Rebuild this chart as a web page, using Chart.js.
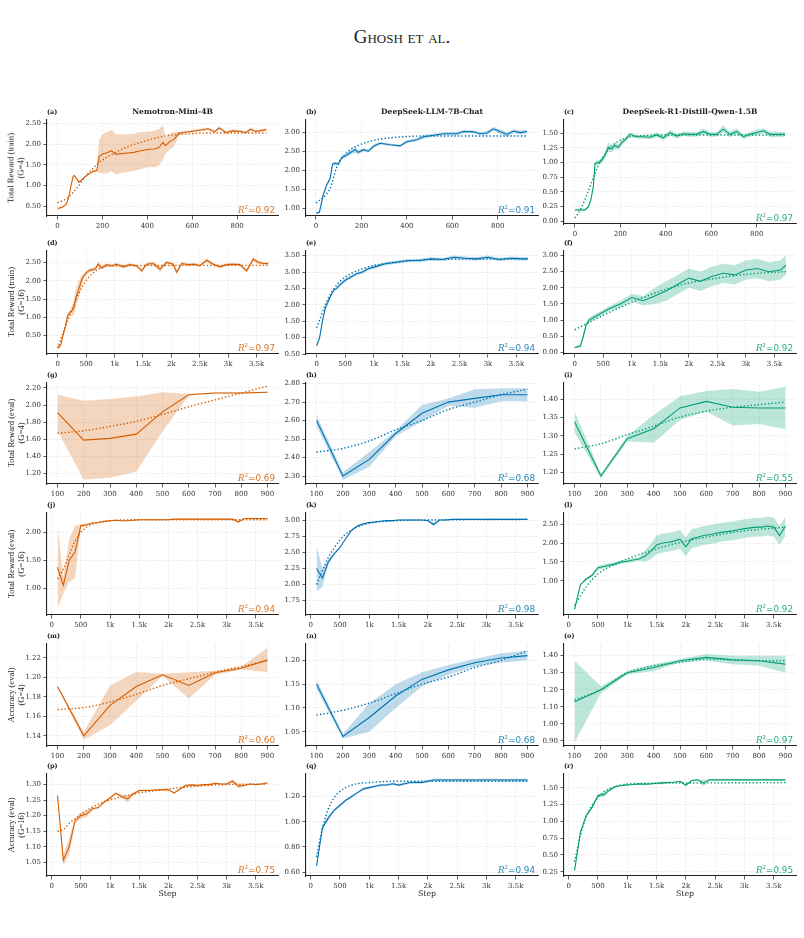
<!DOCTYPE html>
<html>
<head>
<meta charset="utf-8">
<script src="https://cdn.jsdelivr.net/npm/chart.js@4.4.1/dist/chart.umd.min.js"></script>
<style>
  body { margin: 0; background: #fff; width: 804px; height: 938px; position: relative; overflow: hidden; }
  canvas { position: absolute; }
  .t { position: absolute; white-space: nowrap; color: #222; }
  .head { left: 0; width: 804px; top: 26px; text-align: center; font: 19px "Liberation Serif", serif; font-variant: small-caps; }
  .ttl { font: bold 7.6px "DejaVu Serif", serif; transform: translateX(-50%); }
  .lbl { font: bold 6.5px "DejaVu Serif", serif; }
  .ylab { font: 8.6px/9.5px "Liberation Serif", serif; text-align: center; transform: translate(-50%, -50%) rotate(-90deg); }
  .r2 { font: 8.8px "DejaVu Sans", sans-serif; transform: translateX(-100%); }
  .r2 i { font-family: "DejaVu Serif", serif; }
  .r2 sup { font-size: 5.5px; vertical-align: 4px; }
  .step { font: 7.8px "DejaVu Serif", serif; transform: translateX(-50%); }
</style>
</head>
<body>
<div class="t head">Ghosh et al.</div>
<script>
"use strict";

const ORANGE = "#d55e00";
const BLUE = "#0072b2";
const GREEN = "#009e73";

const evalSteps = [100, 200, 300, 400, 500, 600, 700, 800, 900];
const longSteps = [100, 200, 300, 400, 500, 600, 700, 800, 900, 1000, 1100, 1200, 1300, 1400, 1500, 1600, 1700, 1800, 1900, 2000,
  2100, 2200, 2300, 2400, 2500, 2600, 2700, 2800, 2900, 3000, 3100, 3200, 3300, 3400, 3500, 3600, 3700];

// (a) Nemotron-Mini-4B, total reward (train), G=4
const aStep = [0, 20, 40, 50, 60, 70, 75, 85, 95, 105, 120, 140, 160, 175, 185, 200, 220, 240, 260, 300, 340, 370, 400, 430, 450, 470, 480, 500, 520, 540, 560, 600, 640, 670, 700, 720, 750, 780, 810, 840, 860, 880, 900, 930];
const aVal = [0.44, 0.47, 0.55, 0.72, 1.00, 1.22, 1.24, 1.16, 1.08, 1.12, 1.20, 1.28, 1.34, 1.36, 1.70, 1.76, 1.79, 1.84, 1.75, 1.78, 1.80, 1.84, 1.87, 1.88, 1.91, 2.04, 1.96, 2.06, 2.12, 2.26, 2.28, 2.31, 2.34, 2.37, 2.30, 2.39, 2.28, 2.32, 2.31, 2.28, 2.36, 2.31, 2.32, 2.35];
const aErr = [0.02, 0.02, 0.02, 0.02, 0.02, 0.02, 0.02, 0.02, 0.02, 0.02, 0.02, 0.02, 0.02, 0.02, 0.40, 0.47, 0.50, 0.50, 0.48, 0.46, 0.45, 0.45, 0.43, 0.44, 0.44, 0.42, 0.20, 0.20, 0.18, 0.04, 0.03, 0.03, 0.03, 0.03, 0.03, 0.03, 0.03, 0.03, 0.03, 0.03, 0.03, 0.03, 0.03, 0.03];
const aFitStep = [0, 40, 84, 128, 187, 232, 306, 394, 483, 571, 689, 930];
const aFit = [0.58, 0.68, 0.92, 1.24, 1.56, 1.72, 1.92, 2.08, 2.20, 2.24, 2.27, 2.27];

// (b) DeepSeek-LLM-7B-Chat, total reward (train), G=4
const bStep = [0, 15, 32, 47, 62, 73, 84, 98, 113, 128, 150, 172, 186, 209, 231, 253, 282, 326, 370, 399, 443, 473, 517, 561, 620, 649, 693, 722, 752, 781, 811, 840, 869, 899, 928];
const bVal = [0.87, 0.90, 1.36, 1.62, 1.79, 2.17, 2.19, 2.17, 2.34, 2.38, 2.47, 2.55, 2.48, 2.55, 2.51, 2.64, 2.72, 2.68, 2.65, 2.76, 2.81, 2.89, 2.93, 2.97, 2.97, 3.03, 3.02, 2.97, 2.99, 3.10, 3.02, 2.95, 3.04, 3.00, 3.03];
const bErr = [0.02, 0.02, 0.04, 0.04, 0.04, 0.05, 0.04, 0.04, 0.05, 0.05, 0.06, 0.08, 0.06, 0.04, 0.04, 0.04, 0.04, 0.03, 0.03, 0.04, 0.04, 0.05, 0.04, 0.04, 0.05, 0.04, 0.04, 0.04, 0.06, 0.05, 0.06, 0.06, 0.05, 0.05, 0.05];
const bFitStep = [0, 62, 91, 135, 194, 267, 385, 500, 930];
const bFit = [1.14, 1.53, 2.08, 2.47, 2.68, 2.81, 2.89, 2.91, 2.91];

// (c) DeepSeek-R1-Distill-Qwen-1.5B, total reward (train), G=4
const cStep = [0, 22, 44, 59, 70, 81, 88, 103, 117, 132, 147, 162, 176, 191, 206, 220, 242, 272, 301, 330, 360, 389, 419, 448, 477, 507, 536, 565, 595, 624, 653, 683, 712, 742, 771, 800, 830, 859, 888, 925];
const cVal = [0.19, 0.19, 0.19, 0.24, 0.36, 0.58, 0.98, 1.00, 1.03, 1.12, 1.26, 1.23, 1.29, 1.26, 1.34, 1.38, 1.48, 1.44, 1.44, 1.43, 1.47, 1.42, 1.51, 1.45, 1.49, 1.48, 1.48, 1.53, 1.48, 1.48, 1.57, 1.48, 1.53, 1.44, 1.48, 1.51, 1.54, 1.48, 1.48, 1.48];
const cErr = [0.02, 0.02, 0.02, 0.02, 0.03, 0.04, 0.04, 0.04, 0.05, 0.05, 0.08, 0.06, 0.06, 0.05, 0.05, 0.04, 0.04, 0.03, 0.03, 0.04, 0.04, 0.04, 0.05, 0.04, 0.04, 0.04, 0.04, 0.05, 0.04, 0.04, 0.06, 0.05, 0.05, 0.04, 0.04, 0.05, 0.04, 0.05, 0.05, 0.04];
const cFitStep = [0, 25, 50, 75, 100, 125, 150, 175, 200, 250, 300, 400, 930];
const cFit = [0.05, 0.20, 0.42, 0.68, 0.92, 1.10, 1.23, 1.32, 1.38, 1.44, 1.46, 1.47, 1.47];

// (d) Nemotron-Mini-4B, total reward (train), G=16
const dStep = [0, 29, 59, 100, 141, 176, 217, 258, 287, 322, 363, 393, 422, 463, 510, 569, 657, 715, 774, 862, 950, 1038, 1155, 1272, 1389, 1477, 1565, 1682, 1800, 1917, 2034, 2093, 2181, 2298, 2415, 2503, 2620, 2737, 2855, 2972, 3089, 3206, 3324, 3441, 3529, 3617, 3705];
const dVal = [0.21, 0.19, 0.28, 0.55, 0.78, 1.05, 1.14, 1.19, 1.28, 1.55, 1.73, 1.87, 2.02, 2.14, 2.23, 2.29, 2.32, 2.45, 2.35, 2.44, 2.41, 2.45, 2.38, 2.44, 2.41, 2.27, 2.45, 2.47, 2.32, 2.50, 2.45, 2.23, 2.47, 2.44, 2.45, 2.41, 2.56, 2.45, 2.38, 2.44, 2.45, 2.44, 2.27, 2.59, 2.50, 2.47, 2.47];
const dErr = [0.03, 0.03, 0.04, 0.06, 0.06, 0.06, 0.06, 0.15, 0.20, 0.25, 0.25, 0.20, 0.12, 0.06, 0.05, 0.05, 0.05, 0.08, 0.06, 0.04, 0.04, 0.04, 0.05, 0.04, 0.04, 0.05, 0.04, 0.05, 0.08, 0.04, 0.04, 0.06, 0.04, 0.04, 0.04, 0.04, 0.05, 0.04, 0.04, 0.04, 0.04, 0.04, 0.06, 0.05, 0.05, 0.04, 0.04];
const dFitStep = [0, 100, 200, 300, 400, 500, 600, 700, 800, 1000, 3705];
const dFit = [0.15, 0.60, 1.00, 1.40, 1.75, 2.00, 2.18, 2.30, 2.37, 2.41, 2.42];

// (e) DeepSeek-LLM-7B-Chat, total reward (train), G=16
const eStep = [0, 50, 100, 150, 200, 250, 300, 350, 400, 500, 600, 700, 800, 900, 1000, 1200, 1400, 1600, 1800, 2000, 2200, 2400, 2600, 2800, 3000, 3200, 3400, 3600, 3700];
const eVal = [0.75, 1.00, 1.50, 1.90, 2.10, 2.30, 2.45, 2.50, 2.60, 2.75, 2.85, 2.95, 3.00, 3.10, 3.15, 3.25, 3.30, 3.35, 3.35, 3.40, 3.38, 3.45, 3.42, 3.40, 3.45, 3.38, 3.42, 3.40, 3.40];
const eErr = [0.03, 0.04, 0.06, 0.06, 0.06, 0.05, 0.05, 0.05, 0.05, 0.05, 0.05, 0.05, 0.05, 0.05, 0.05, 0.05, 0.05, 0.05, 0.05, 0.05, 0.05, 0.05, 0.05, 0.05, 0.05, 0.05, 0.05, 0.05, 0.05];
const eFitStep = [0, 200, 400, 600, 800, 1000, 1500, 2000, 3700];
const eFit = [1.30, 2.20, 2.70, 2.95, 3.10, 3.20, 3.32, 3.38, 3.40];

// (f) DeepSeek-R1-Distill-Qwen-1.5B, total reward (train), G=16
const fStep = [0, 100, 150, 200, 250, 300, 400, 500, 600, 800, 1000, 1200, 1400, 1600, 1800, 2000, 2200, 2400, 2600, 2800, 3000, 3200, 3400, 3600, 3700];
const fVal = [0.15, 0.20, 0.50, 0.85, 1.00, 1.05, 1.15, 1.25, 1.35, 1.50, 1.70, 1.60, 1.75, 1.90, 2.10, 2.30, 2.20, 2.35, 2.45, 2.40, 2.55, 2.60, 2.50, 2.55, 2.70];
const fErr = [0.03, 0.05, 0.08, 0.08, 0.08, 0.08, 0.08, 0.08, 0.08, 0.10, 0.12, 0.15, 0.25, 0.30, 0.30, 0.30, 0.30, 0.30, 0.30, 0.30, 0.30, 0.30, 0.30, 0.30, 0.30];
const fFitStep = [0, 500, 1000, 1500, 2000, 2500, 3000, 3700];
const fFit = [0.70, 1.15, 1.55, 1.90, 2.15, 2.30, 2.42, 2.50];

// (g) Nemotron-Mini-4B, total reward (eval), G=4
const gVal = [1.91, 1.59, 1.61, 1.66, 1.92, 2.12, 2.14, 2.14, 2.15];
const gErr = [0.21, 0.46, 0.46, 0.44, 0.23, 0.01, 0.005, 0.01, 0.005];
const gFit = [1.67, 1.70, 1.75, 1.81, 1.89, 1.98, 2.06, 2.14, 2.22];

// (h) DeepSeek-LLM-7B-Chat, total reward (eval), G=4
const hVal = [2.60, 2.30, 2.39, 2.53, 2.64, 2.70, 2.72, 2.74, 2.74];
const hErr = [0.03, 0.02, 0.04, 0.015, 0.045, 0.02, 0.05, 0.035, 0.035];
const hFit = [2.43, 2.45, 2.49, 2.55, 2.60, 2.66, 2.70, 2.74, 2.77];

// (i) DeepSeek-R1-Distill-Qwen-1.5B, total reward (eval), G=4
const iVal = [1.338, 1.19, 1.292, 1.319, 1.376, 1.394, 1.378, 1.376, 1.376];
const iErr = [0.028, 0.007, 0.007, 0.038, 0.032, 0.028, 0.05, 0.044, 0.058];
const iFit = [1.264, 1.278, 1.303, 1.326, 1.351, 1.367, 1.378, 1.385, 1.392];

// (j) Nemotron-Mini-4B, total reward (eval), G=16
const jVal = [1.38, 1.06, 1.50, 1.65, 2.12, 2.14, 2.17, 2.18, 2.20, 2.21, 2.22, 2.21, 2.21, 2.22, 2.23, 2.23, 2.23, 2.23, 2.23, 2.23,
  2.24, 2.24, 2.24, 2.24, 2.24, 2.24, 2.24, 2.24, 2.24, 2.24, 2.24, 2.19, 2.25, 2.25, 2.25, 2.25, 2.25];
const jErr = [0.74, 0.15, 0.38, 0.47, 0.03, 0.02, 0.01, 0.01, 0.01, 0.01, 0.01, 0.01, 0.01, 0.01, 0.01, 0.01, 0.01, 0.01, 0.01, 0.01,
  0.01, 0.01, 0.01, 0.01, 0.01, 0.01, 0.01, 0.01, 0.01, 0.01, 0.01, 0.03, 0.01, 0.01, 0.01, 0.01, 0.01];
const jFitStep = [100, 200, 300, 400, 500, 600, 800, 1000, 1500, 3700];
const jFit = [1.17, 1.35, 1.60, 1.85, 2.00, 2.10, 2.18, 2.21, 2.23, 2.23];

// (k) DeepSeek-LLM-7B-Chat, total reward (eval), G=16
const kVal = [2.25, 2.10, 2.35, 2.48, 2.58, 2.72, 2.85, 2.92, 2.95, 2.97, 2.98, 2.99, 3.00, 3.00, 3.01, 3.01, 3.01, 3.01, 3.01, 3.00,
  2.94, 3.01, 3.01, 3.02, 3.02, 3.02, 3.02, 3.02, 3.02, 3.02, 3.02, 3.02, 3.02, 3.02, 3.02, 3.02, 3.02];
const kErr = [0.36, 0.14, 0.04, 0.02, 0.01, 0.01, 0.01, 0.01, 0.01, 0.01, 0.01, 0.01, 0.01, 0.01, 0.01, 0.01, 0.01, 0.01, 0.01, 0.01,
  0.03, 0.01, 0.01, 0.01, 0.01, 0.01, 0.01, 0.01, 0.01, 0.01, 0.01, 0.01, 0.01, 0.01, 0.01, 0.01, 0.01];
const kFitStep = [100, 200, 300, 400, 500, 600, 800, 1000, 1500, 2000, 3700];
const kFit = [2.00, 2.22, 2.42, 2.57, 2.70, 2.79, 2.90, 2.96, 3.00, 3.01, 3.02];

// (l) DeepSeek-R1-Distill-Qwen-1.5B, total reward (eval), G=16
const lVal = [0.25, 0.90, 1.05, 1.15, 1.35, 1.38, 1.42, 1.45, 1.50, 1.52, 1.55, 1.58, 1.65, 1.78, 1.95, 2.00, 2.02, 2.05, 2.10, 1.90,
  2.12, 2.15, 2.20, 2.22, 2.25, 2.28, 2.30, 2.32, 2.35, 2.38, 2.40, 2.42, 2.42, 2.45, 2.42, 2.20, 2.45];
const lErr = [0.02, 0.03, 0.04, 0.04, 0.05, 0.05, 0.05, 0.05, 0.05, 0.05, 0.05, 0.05, 0.15, 0.20, 0.25, 0.25, 0.25, 0.25, 0.25, 0.25,
  0.25, 0.25, 0.25, 0.25, 0.25, 0.25, 0.25, 0.25, 0.25, 0.25, 0.25, 0.25, 0.25, 0.25, 0.25, 0.25, 0.25];
const lFitStep = [100, 300, 500, 800, 1000, 1500, 2000, 2500, 3000, 3700];
const lFit = [0.35, 0.85, 1.18, 1.45, 1.58, 1.85, 2.05, 2.20, 2.32, 2.42];

// (m) Nemotron-Mini-4B, accuracy (eval), G=4
const mVal = [1.1907, 1.140, 1.1713, 1.1907, 1.2026, 1.1917, 1.2047, 1.2094, 1.2180];
const mErr = [0.001, 0.004, 0.0204, 0.0148, 0.0012, 0.0135, 0.0022, 0.0014, 0.0124];
const mFit = [1.1669, 1.1690, 1.1747, 1.1826, 1.1917, 1.1986, 1.2054, 1.2111, 1.2173];

// (n) DeepSeek-LLM-7B-Chat, accuracy (eval), G=4
const nVal = [1.150, 1.040, 1.080, 1.125, 1.160, 1.180, 1.195, 1.205, 1.210];
const nErr = [0.010, 0.005, 0.030, 0.025, 0.015, 0.010, 0.008, 0.010, 0.010];
const nFit = [1.085, 1.095, 1.110, 1.130, 1.150, 1.165, 1.185, 1.200, 1.220];

// (o) DeepSeek-R1-Distill-Qwen-1.5B, accuracy (eval), G=4
const oVal = [1.13, 1.20, 1.30, 1.33, 1.37, 1.39, 1.375, 1.37, 1.35];
const oErr = [0.24, 0.02, 0.01, 0.02, 0.01, 0.02, 0.025, 0.03, 0.05];
const oFit = [1.14, 1.20, 1.30, 1.34, 1.36, 1.38, 1.375, 1.37, 1.37];

// (p) Nemotron-Mini-4B, accuracy (eval), G=16
const pVal = [1.265, 1.057, 1.100, 1.183, 1.200, 1.206, 1.222, 1.226, 1.244, 1.257, 1.272, 1.262, 1.254, 1.270, 1.281, 1.281, 1.281, 1.283, 1.283, 1.283,
  1.273, 1.286, 1.297, 1.299, 1.297, 1.300, 1.300, 1.304, 1.302, 1.302, 1.311, 1.295, 1.297, 1.302, 1.300, 1.302, 1.306];
const pErr = [0.002, 0.016, 0.027, 0.008, 0.010, 0.010, 0.004, 0.003, 0.003, 0.003, 0.004, 0.006, 0.012, 0.005, 0.004, 0.002, 0.002, 0.002, 0.002, 0.002,
  0.003, 0.002, 0.004, 0.004, 0.004, 0.003, 0.003, 0.003, 0.002, 0.003, 0.006, 0.007, 0.003, 0.002, 0.002, 0.002, 0.003];
const pFitStep = [100, 200, 300, 400, 500, 700, 900, 1100, 1300, 1500, 2000, 2500, 3000, 3700];
const pFit = [1.150, 1.155, 1.175, 1.190, 1.204, 1.228, 1.244, 1.256, 1.265, 1.273, 1.286, 1.295, 1.300, 1.302];

// (q) DeepSeek-LLM-7B-Chat, accuracy (eval), G=16
const qVal = [0.65, 0.95, 1.03, 1.09, 1.13, 1.17, 1.20, 1.23, 1.26, 1.27, 1.28, 1.29, 1.29, 1.30, 1.29, 1.30, 1.31, 1.31, 1.31, 1.32,
  1.33, 1.33, 1.33, 1.33, 1.33, 1.33, 1.33, 1.33, 1.33, 1.33, 1.33, 1.33, 1.33, 1.33, 1.33, 1.33, 1.33];
const qErr = [0.01, 0.02, 0.02, 0.01, 0.01, 0.01, 0.01, 0.01, 0.01, 0.01, 0.01, 0.01, 0.01, 0.01, 0.01, 0.01, 0.01, 0.01, 0.01, 0.01,
  0.01, 0.01, 0.01, 0.01, 0.01, 0.01, 0.01, 0.01, 0.01, 0.01, 0.01, 0.01, 0.01, 0.01, 0.01, 0.01, 0.01];
const qFitStep = [100, 200, 300, 400, 500, 700, 1000, 1500, 3700];
const qFit = [0.72, 0.95, 1.10, 1.19, 1.24, 1.29, 1.31, 1.32, 1.32];

// (r) DeepSeek-R1-Distill-Qwen-1.5B, accuracy (eval), G=16
const rVal = [0.265, 0.84, 1.09, 1.21, 1.386, 1.40, 1.47, 1.52, 1.535, 1.545, 1.55, 1.56, 1.555, 1.56, 1.57, 1.575, 1.58, 1.585, 1.60, 1.54,
  1.61, 1.62, 1.57, 1.62, 1.62, 1.62, 1.62, 1.62, 1.62, 1.62, 1.62, 1.62, 1.62, 1.62, 1.62, 1.62, 1.62];
const rErr = [0.01, 0.02, 0.02, 0.02, 0.02, 0.04, 0.02, 0.01, 0.01, 0.01, 0.01, 0.01, 0.015, 0.01, 0.015, 0.02, 0.015, 0.01, 0.01, 0.02,
  0.01, 0.01, 0.05, 0.01, 0.01, 0.01, 0.01, 0.01, 0.01, 0.01, 0.01, 0.01, 0.01, 0.01, 0.01, 0.01, 0.01];
const rFitStep = [100, 200, 300, 400, 500, 600, 700, 800, 1000, 1500, 3700];
const rFit = [0.40, 0.79, 1.07, 1.24, 1.36, 1.44, 1.49, 1.52, 1.56, 1.57, 1.58];

const titles = ["Nemotron-Mini-4B", "DeepSeek-LLM-7B-Chat", "DeepSeek-R1-Distill-Qwen-1.5B"];
const rowLabels = [["Total Reward (train)", "(G=4)"], ["Total Reward (train)", "(G=16)"], ["Total Reward (eval)", "(G=4)"],
  ["Total Reward (eval)", "(G=16)"], ["Accuracy (eval)", "(G=4)"], ["Accuracy (eval)", "(G=16)"]];
const r2 = ["0.92", "0.91", "0.97", "0.97", "0.94", "0.92", "0.69", "0.68", "0.55", "0.94", "0.98", "0.92", "0.60", "0.68", "0.97", "0.75", "0.94", "0.95"];

const x900 = [0, 200, 400, 600, 800];
const xEval = [100, 200, 300, 400, 500, 600, 700, 800, 900];
const xLong = [0, 500, 1000, 1500, 2000, 2500, 3000, 3500];

const panels = [
  { box: [47, 119, 278, 216], color: ORANGE, xr: [-47, 982], xt: x900, yr: [0.26, 2.59], yt: [0.5, 1, 1.5, 2, 2.5], line: [aStep, aVal, aErr], fit: [aFitStep, aFit] },
  { box: [306, 119, 538, 216], color: BLUE, xr: [-44, 977], xt: x900, yr: [0.80, 3.34], yt: [1, 1.5, 2, 2.5, 3], line: [bStep, bVal, bErr], fit: [bFitStep, bFit] },
  { box: [564, 119, 796, 224], color: GREEN, xr: [-48, 973], xt: x900, yr: [-0.05, 1.73], yt: [0, 0.25, 0.5, 0.75, 1, 1.25, 1.5], line: [cStep, cVal, cErr], fit: [cFitStep, cFit] },
  { box: [47, 250, 278, 354], color: ORANGE, xr: [-188, 3876], xt: xLong, yr: [0.0, 2.82], yt: [0.5, 1, 1.5, 2, 2.5], line: [dStep, dVal, dErr], fit: [dFitStep, dFit] },
  { box: [306, 250, 538, 354], color: BLUE, xr: [-188, 3876], xt: xLong, yr: [0.5, 3.65], yt: [0.5, 1, 1.5, 2, 2.5, 3, 3.5], line: [eStep, eVal, eErr], fit: [eFitStep, eFit] },
  { box: [564, 250, 796, 354], color: GREEN, xr: [-188, 3876], xt: xLong, yr: [-0.05, 3.15], yt: [0, 0.5, 1, 1.5, 2, 2.5, 3], line: [fStep, fVal, fErr], fit: [fFitStep, fFit] },
  { box: [47, 382, 278, 484], color: ORANGE, xr: [60, 940], xt: xEval, yr: [1.077, 2.261], yt: [1.2, 1.4, 1.6, 1.8, 2.0, 2.2], line: [evalSteps, gVal, gErr], fit: [evalSteps, gFit] },
  { box: [306, 382, 538, 484], color: BLUE, xr: [60, 940], xt: xEval, yr: [2.257, 2.805], yt: [2.3, 2.4, 2.5, 2.6, 2.7, 2.8], line: [evalSteps, hVal, hErr], fit: [evalSteps, hFit] },
  { box: [564, 382, 796, 484], color: GREEN, xr: [60, 940], xt: xEval, yr: [1.168, 1.445], yt: [1.2, 1.25, 1.3, 1.35, 1.4], line: [evalSteps, iVal, iErr], fit: [evalSteps, iFit] },
  { box: [47, 512, 278, 615], color: ORANGE, xr: [-80, 3880], xt: xLong, yr: [0.526, 2.355], yt: [1, 1.5, 2], line: [longSteps, jVal, jErr], fit: [jFitStep, jFit] },
  { box: [306, 512, 538, 615], color: BLUE, xr: [-80, 3880], xt: xLong, yr: [1.52, 3.125], yt: [1.75, 2, 2.25, 2.5, 2.75, 3], line: [longSteps, kVal, kErr], fit: [kFitStep, kFit] },
  { box: [564, 512, 796, 615], color: GREEN, xr: [-80, 3880], xt: xLong, yr: [0.1, 2.8], yt: [1, 1.5, 2, 2.5], line: [longSteps, lVal, lErr], fit: [lFitStep, lFit] },
  { box: [47, 643, 278, 746], color: ORANGE, xr: [60, 940], xt: xEval, yr: [1.1295, 1.2346], yt: [1.14, 1.16, 1.18, 1.2, 1.22], line: [evalSteps, mVal, mErr], fit: [evalSteps, mFit] },
  { box: [306, 643, 538, 746], color: BLUE, xr: [60, 940], xt: xEval, yr: [1.02, 1.235], yt: [1.05, 1.1, 1.15, 1.2], line: [evalSteps, nVal, nErr], fit: [evalSteps, nFit] },
  { box: [564, 643, 796, 746], color: GREEN, xr: [60, 940], xt: xEval, yr: [0.87, 1.47], yt: [0.9, 1.0, 1.1, 1.2, 1.3, 1.4], line: [evalSteps, oVal, oErr], fit: [evalSteps, oFit] },
  { box: [47, 773, 278, 876], color: ORANGE, xr: [-80, 3880], xt: xLong, yr: [1.006, 1.335], yt: [1.05, 1.1, 1.15, 1.2, 1.25, 1.3], line: [longSteps, pVal, pErr], fit: [pFitStep, pFit] },
  { box: [306, 773, 538, 876], color: BLUE, xr: [-80, 3880], xt: xLong, yr: [0.57, 1.38], yt: [0.6, 0.8, 1.0, 1.2], line: [longSteps, qVal, qErr], fit: [qFitStep, qFit] },
  { box: [564, 773, 796, 876], color: GREEN, xr: [-80, 3880], xt: xLong, yr: [0.186, 1.712], yt: [0.25, 0.5, 0.75, 1.0, 1.25, 1.5], line: [longSteps, rVal, rErr], fit: [rFitStep, rFit] },
];

const PAD_L = 40, PAD_T = 6, PAD_R = 8, PAD_B = 20;
const tickFont = { family: "DejaVu Serif", size: 7 };

function rgba(hex, a) {
  const n = parseInt(hex.slice(1), 16);
  return `rgba(${n >> 16}, ${(n >> 8) & 255}, ${n & 255}, ${a})`;
}

function pts(xs, ys) {
  return xs.map((x, i) => ({ x: x, y: ys[i] }));
}

function fmtStep(v) {
  if (v >= 1000) return (v / 1000) + "k";
  return String(v);
}

function addText(cls, html, left, top) {
  const d = document.createElement("div");
  d.className = "t " + cls;
  d.innerHTML = html;
  d.style.left = left + "px";
  d.style.top = top + "px";
  document.body.appendChild(d);
  return d;
}

panels.forEach((p, idx) => {
  const [x0, y0, x1, y1] = p.box;
  const cv = document.createElement("canvas");
  cv.width = x1 - x0 + PAD_L + PAD_R;
  cv.height = y1 - y0 + PAD_T + PAD_B;
  cv.style.left = (x0 - PAD_L) + "px";
  cv.style.top = (y0 - PAD_T) + "px";
  document.body.appendChild(cv);

  const [xs, ys, err] = p.line;
  const lo = ys.map((v, i) => v - err[i]);
  const hi = ys.map((v, i) => v + err[i]);

  new Chart(cv.getContext("2d"), {
    type: "line",
    data: {
      datasets: [
        { data: pts(xs, lo), borderWidth: 0, pointRadius: 0, fill: false, order: 4 },
        { data: pts(xs, hi), borderWidth: 0, pointRadius: 0, fill: "-1", backgroundColor: rgba(p.color, 0.26), order: 3 },
        { data: pts(p.fit[0], p.fit[1]), borderColor: p.color, borderWidth: 1.4, borderDash: [1.4, 2.1], pointRadius: 0,
          fill: false, cubicInterpolationMode: "monotone", order: 2 },
        { data: pts(xs, ys), borderColor: p.color, borderWidth: 1.1, pointRadius: 0, fill: false, order: 1 },
      ],
    },
    options: {
      responsive: false,
      animation: false,
      events: [],
      layout: { padding: { left: 0, top: PAD_T, right: PAD_R, bottom: 0 } },
      plugins: { legend: { display: false }, tooltip: { enabled: false } },
      scales: {
        x: {
          type: "linear",
          min: p.xr[0],
          max: p.xr[1],
          afterBuildTicks: (s) => { s.ticks = p.xt.map((v) => ({ value: v })); },
          afterFit: (s) => { s.height = PAD_B; },
          ticks: { font: tickFont, color: "#333", padding: 2, maxRotation: 0, autoSkip: false, callback: fmtStep },
          grid: { color: "#e4e4e4", lineWidth: 0.8, tickColor: "#333", tickLength: 3.5, tickWidth: 0.8 },
          border: { color: "#222", width: 1.1, dash: [1.5, 1.5] },
        },
        y: {
          type: "linear",
          min: p.yr[0],
          max: p.yr[1],
          afterBuildTicks: (s) => { s.ticks = p.yt.filter((v) => v >= p.yr[0] && v <= p.yr[1]).map((v) => ({ value: v })); },
          afterFit: (s) => { s.width = PAD_L; },
          ticks: { font: tickFont, color: "#333", padding: 2.5, autoSkip: false, callback: (v) => v.toFixed(2) },
          grid: { color: "#e4e4e4", lineWidth: 0.8, tickColor: "#333", tickLength: 3.5, tickWidth: 0.8 },
          border: { color: "#222", width: 1.1, dash: [1.5, 1.5] },
        },
      },
    },
  });

  const col = idx % 3, row = Math.floor(idx / 3);
  addText("lbl", "(" + String.fromCharCode(97 + idx) + ")", x0, y0 - 11);
  if (row === 0) addText("ttl", titles[col], (x0 + x1) / 2 + 10, y0 - 12);
  addText("r2", "<i>R</i><sup>2</sup>=" + r2[idx], x1 - 3, y1 - 12).style.color = rgba(p.color, 0.85);
  if (col === 0) {
    addText("ylab", rowLabels[row][0] + "<br>" + rowLabels[row][1], 16, (y0 + y1) / 2);
  }
  if (row === 5) addText("step", "Step", (x0 + x1) / 2 + 5, y1 + 13);
});
</script>
</body>
</html>
